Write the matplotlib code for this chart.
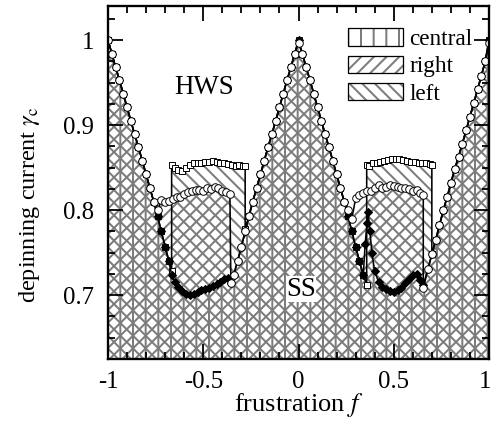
import matplotlib
matplotlib.use('Agg')
import matplotlib.pyplot as plt
import matplotlib.transforms as mtransforms
from matplotlib.patches import Patch
from matplotlib.legend_handler import HandlerTuple
from matplotlib.ticker import MultipleLocator

plt.rcParams['font.family'] = ['Liberation Serif', 'DejaVu Serif']
plt.rcParams['mathtext.fontset'] = 'stix'
plt.rcParams['hatch.linewidth'] = 1.9

# ---------------- data ----------------
# "right" curve (open circles)
f_right = [-1.00, -0.98, -0.96, -0.94, -0.92, -0.90, -0.88, -0.86, -0.84, -0.82, -0.80, -0.78, -0.76, -0.74,
           -0.72, -0.70, -0.68, -0.66, -0.64, -0.62, -0.60, -0.58, -0.56, -0.54, -0.52, -0.50, -0.48, -0.46,
           -0.44, -0.42, -0.40, -0.38, -0.36,
           -0.355, -0.34, -0.32, -0.30, -0.28, -0.26, -0.24, -0.22, -0.20, -0.18, -0.16, -0.14, -0.12, -0.10,
           -0.08, -0.06, -0.04, -0.02, 0.00,
           0.02, 0.04, 0.06, 0.08, 0.10, 0.12, 0.14, 0.16, 0.18, 0.20, 0.22, 0.24, 0.26, 0.28,
           0.30, 0.32, 0.34, 0.36, 0.38, 0.40, 0.42, 0.44, 0.46, 0.48, 0.50, 0.52, 0.54, 0.56, 0.58, 0.60,
           0.62, 0.64, 0.655,
           0.655, 0.68, 0.70, 0.72, 0.74, 0.76, 0.78, 0.80, 0.82, 0.84, 0.86, 0.88, 0.90, 0.92, 0.94, 0.96,
           0.98, 1.00]
g_right = [1.000, 0.984, 0.968, 0.953, 0.937, 0.921, 0.905, 0.889, 0.874, 0.858, 0.842, 0.826, 0.810, 0.800,
           0.812, 0.810, 0.811, 0.813, 0.815, 0.816, 0.819, 0.821, 0.823, 0.824, 0.824, 0.822, 0.826, 0.825,
           0.827, 0.826, 0.823, 0.821, 0.819,
           0.714, 0.724, 0.740, 0.757, 0.775, 0.793, 0.810, 0.826, 0.842, 0.858, 0.874, 0.889, 0.905, 0.921,
           0.937, 0.953, 0.968, 0.984, 0.996,
           0.984, 0.968, 0.953, 0.937, 0.921, 0.905, 0.889, 0.874, 0.858, 0.842, 0.826, 0.810, 0.800, 0.790,
           0.814, 0.818, 0.820, 0.822, 0.823, 0.826, 0.829, 0.826, 0.827, 0.829, 0.828, 0.827, 0.826, 0.826,
           0.825, 0.823, 0.824, 0.820, 0.818,
           0.708, 0.731, 0.748, 0.765, 0.782, 0.800, 0.815, 0.832, 0.848, 0.863, 0.878, 0.894, 0.910, 0.926,
           0.942, 0.958, 0.975, 0.996]

# "left" curve (open squares)
f_left = [-1.00, -0.98, -0.96, -0.94, -0.92, -0.90, -0.88, -0.86, -0.84, -0.82, -0.80, -0.78, -0.76, -0.74,
          -0.72, -0.70, -0.68, -0.666, -0.666,
          -0.65, -0.63, -0.61, -0.59, -0.57, -0.55, -0.53, -0.51, -0.49, -0.47, -0.45, -0.43, -0.41, -0.39,
          -0.37, -0.35, -0.33, -0.31, -0.29, -0.28, -0.28,
          -0.26, -0.24, -0.22, -0.20, -0.18, -0.16, -0.14, -0.12, -0.10, -0.08, -0.06, -0.04, -0.02, 0.00,
          0.02, 0.04, 0.06, 0.08, 0.10, 0.12, 0.14, 0.16, 0.18, 0.20, 0.22, 0.24, 0.26, 0.28, 0.30, 0.32,
          0.34, 0.358, 0.358,
          0.37, 0.39, 0.41, 0.43, 0.45, 0.47, 0.49, 0.51, 0.53, 0.55, 0.57, 0.59, 0.61, 0.63, 0.65, 0.67,
          0.69, 0.70, 0.70,
          0.72, 0.74, 0.76, 0.78, 0.80, 0.82, 0.84, 0.86, 0.88, 0.90, 0.92, 0.94, 0.96, 0.98, 1.00]
g_left = [1.000, 0.984, 0.968, 0.953, 0.937, 0.921, 0.905, 0.889, 0.874, 0.858, 0.842, 0.826, 0.810, 0.793,
          0.775, 0.757, 0.740, 0.728, 0.853,
          0.849, 0.847, 0.846, 0.850, 0.853, 0.855, 0.856, 0.856, 0.857, 0.857, 0.858, 0.857, 0.856, 0.855,
          0.854, 0.853, 0.852, 0.853, 0.852, 0.852, 0.778,
          0.793, 0.810, 0.826, 0.842, 0.858, 0.874, 0.889, 0.905, 0.921, 0.937, 0.953, 0.968, 0.984, 1.000,
          0.984, 0.968, 0.953, 0.937, 0.921, 0.905, 0.889, 0.874, 0.858, 0.842, 0.826, 0.810, 0.793, 0.775,
          0.757, 0.740, 0.724, 0.712, 0.853,
          0.852, 0.855, 0.856, 0.857, 0.858, 0.859, 0.860, 0.860, 0.860, 0.859, 0.858, 0.857, 0.857, 0.856,
          0.855, 0.855, 0.854, 0.853, 0.748,
          0.765, 0.782, 0.800, 0.815, 0.832, 0.848, 0.863, 0.878, 0.894, 0.910, 0.926, 0.942, 0.958, 0.975,
          1.000]

# "central" curve (filled diamonds)
f_central = [-1.00, -0.98, -0.96, -0.94, -0.92, -0.90, -0.88, -0.86, -0.84, -0.82, -0.80, -0.78, -0.76,
             -0.74, -0.72, -0.70, -0.68,
             -0.666, -0.65, -0.63, -0.61, -0.59, -0.57, -0.55, -0.53, -0.51, -0.49, -0.47, -0.45, -0.43,
             -0.41, -0.39, -0.37, -0.355,
             -0.34, -0.32, -0.30, -0.28, -0.26, -0.24, -0.22, -0.20, -0.18, -0.16, -0.14, -0.12, -0.10,
             -0.08, -0.06, -0.04, -0.02, 0.00,
             0.02, 0.04, 0.06, 0.08, 0.10, 0.12, 0.14, 0.16, 0.18, 0.20, 0.22, 0.24, 0.26, 0.28, 0.30, 0.32,
             0.34,
             0.35, 0.36, 0.365, 0.375, 0.385, 0.40, 0.42, 0.44, 0.46, 0.48, 0.50, 0.52, 0.54, 0.56, 0.58,
             0.60, 0.62, 0.64, 0.655,
             0.68, 0.70, 0.72, 0.74, 0.76, 0.78, 0.80, 0.82, 0.84, 0.86, 0.88, 0.90, 0.92, 0.94, 0.96, 0.98,
             1.00]
g_central = [1.000, 0.984, 0.968, 0.953, 0.937, 0.921, 0.905, 0.889, 0.874, 0.858, 0.842, 0.826, 0.810,
             0.793, 0.775, 0.757, 0.740,
             0.724, 0.716, 0.710, 0.705, 0.702, 0.700, 0.702, 0.704, 0.706, 0.707, 0.709, 0.711, 0.713,
             0.716, 0.719, 0.720, 0.714,
             0.724, 0.740, 0.757, 0.775, 0.793, 0.810, 0.826, 0.842, 0.858, 0.874, 0.889, 0.905, 0.921,
             0.937, 0.953, 0.968, 0.984, 1.000,
             0.984, 0.968, 0.953, 0.937, 0.921, 0.905, 0.889, 0.874, 0.858, 0.842, 0.826, 0.810, 0.793,
             0.775, 0.757, 0.740, 0.724,
             0.760, 0.785, 0.798, 0.775, 0.750, 0.728, 0.716, 0.710, 0.707, 0.705, 0.704, 0.706, 0.709,
             0.714, 0.719, 0.724, 0.725, 0.718, 0.712,
             0.731, 0.748, 0.765, 0.782, 0.800, 0.815, 0.832, 0.848, 0.863, 0.878, 0.894, 0.910, 0.926,
             0.942, 0.958, 0.975, 1.000]

legend_labels = ['central', 'right', 'left']
hatches = ['|', '//', '\\\\']
x_ticks = [-1, -0.5, 0, 0.5, 1]
x_ticklabels = ['-1', '-0.5', '0', '0.5', '1']
y_ticks = [0.7, 0.8, 0.9, 1.0]
y_ticklabels = ['0.7', '0.8', '0.9', '1']

# ---------------- figure ----------------
DPI = 76
fig = plt.figure(figsize=(493 / DPI, 432 / DPI), dpi=DPI)
ax = fig.add_axes([108 / 493, (432 - 359) / 432, (489 - 108) / 493, (359 - 6) / 432])

ymin, ymax = 0.625, 1.04
hatch_col = '#7c7c7c'
for fx, gy, h in [(f_central, g_central, hatches[0]),
                  (f_right, g_right, hatches[1]),
                  (f_left, g_left, hatches[2])]:
    ax.fill_between(fx, gy, 0.5, facecolor='none', edgecolor=hatch_col, hatch=h, linewidth=0, zorder=1)

ax.plot(f_left, g_left, color='black', lw=1.5, marker='s', ms=6.3, mfc='white', mec='black', mew=0.9, zorder=3)
ax.plot(f_central, g_central, color='black', lw=1.5, marker='D', ms=5.0, mfc='black', mec='black', zorder=4)
ax.plot(f_right, g_right, color='black', lw=1.5, marker='o', ms=7.2, mfc='white', mec='black', mew=0.9, zorder=5)

ax.set_xlim(-1, 1)
ax.set_ylim(ymin, ymax)
ax.set_xticks(x_ticks)
ax.set_xticklabels(x_ticklabels)
ax.set_yticks(y_ticks)
ax.set_yticklabels(y_ticklabels)
ax.xaxis.set_minor_locator(MultipleLocator(0.1))
ax.yaxis.set_minor_locator(MultipleLocator(0.025))
ax.tick_params(which='both', direction='in', top=True, right=True, width=1.7, labelsize=23.5, zorder=10)
ax.tick_params(which='major', length=14)
ax.tick_params(which='minor', length=6.5)
ax.tick_params(axis='x', pad=11)
ax.tick_params(axis='y', pad=13)
for s in ax.spines.values():
    s.set_linewidth(2.2)
    s.set_zorder(10)

# keep the last x tick label inside the canvas, as in the reference
last = ax.get_xticklabels()[-1]
last.set_transform(last.get_transform() + mtransforms.ScaledTranslation(-4 / DPI, 0, fig.dpi_scale_trans))

ax.set_xlabel('frustration $f$', fontsize=25)
ax.xaxis.set_label_coords(0.5, -0.092)
ax.set_ylabel('depinning current $\\gamma_\\mathrm{c}$', fontsize=23)
ax.yaxis.set_label_coords(-0.173, 0.436)

ax.text(-0.496, 0.944, 'HWS', fontsize=25.5, ha='center', va='center', zorder=6)
ax.text(0.013, 0.707, 'SS', fontsize=25.5, ha='center', va='center', zorder=6,
        bbox=dict(facecolor='white', edgecolor='none', pad=0.5))

handles = [(Patch(facecolor='white', edgecolor=hatch_col, hatch=h, linewidth=0),
            Patch(facecolor='none', edgecolor='black', linewidth=1.2)) for h in hatches]
leg = ax.legend(handles, legend_labels, handler_map={tuple: HandlerTuple(ndivide=1, pad=0)},
                loc='upper left', bbox_to_anchor=(0.63, 0.937), frameon=False, fontsize=22,
                handlelength=2.35, handleheight=0.77, handletextpad=0.3, labelspacing=0.24,
                borderpad=0, borderaxespad=0)
leg.set_zorder(8)

fig.savefig('out.png', dpi=DPI)
